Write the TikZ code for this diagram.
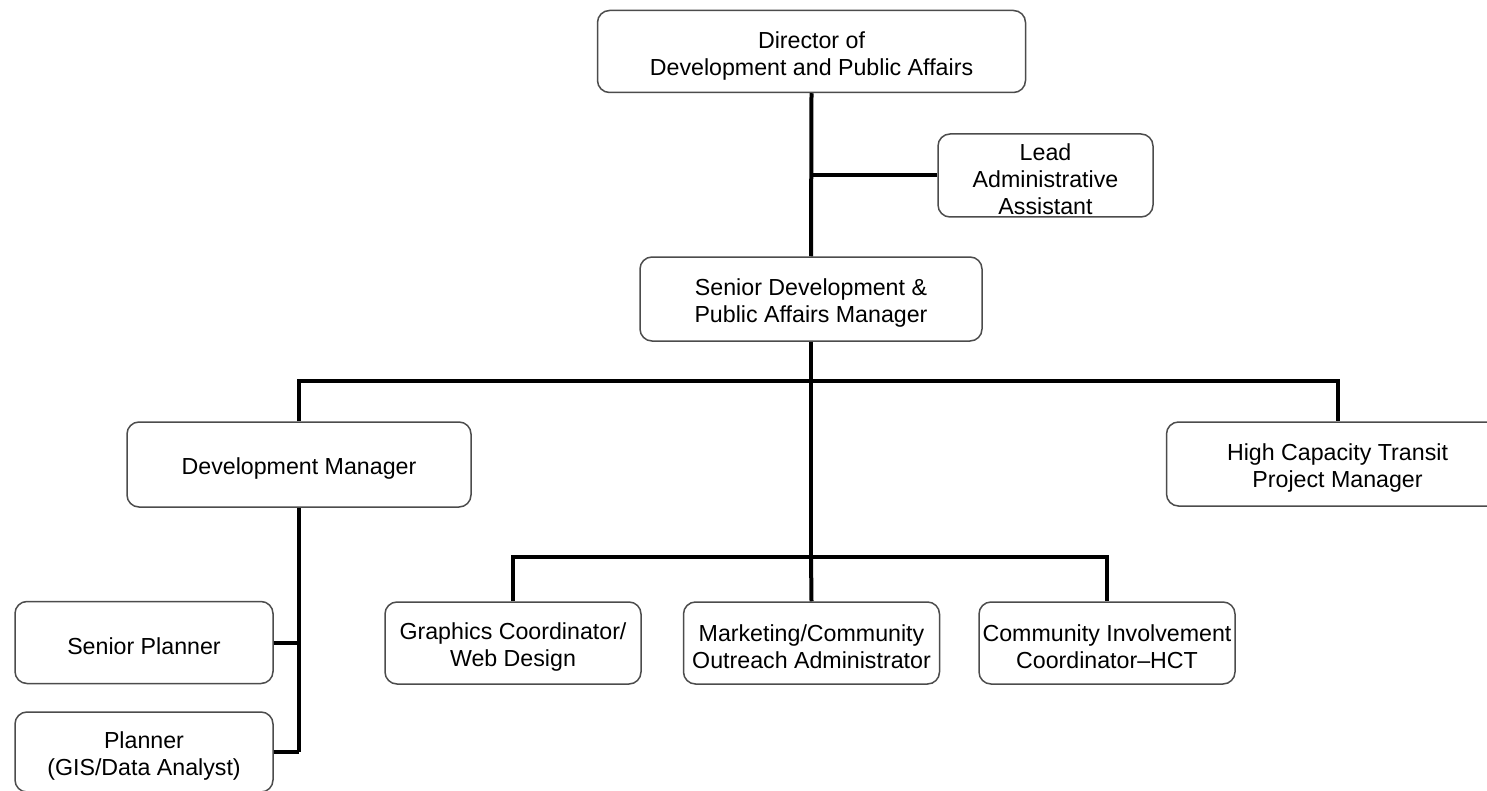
\documentclass[tikz,border=0pt]{standalone}
\usepackage{fontspec}
\setmainfont{Liberation Sans}
\begin{document}
\begin{tikzpicture}[x=0.5pt,y=-0.5pt,
  box/.style={draw=black!70, line width=0.75pt, rounded corners=6pt, fill=white,
    align=center, inner sep=0pt, font=\fontsize{11.6}{13.5}\selectfont, lines=1},
  % a zero-width rule lifts the top of the text block so the lines sit a little low
  lines/.style={execute at begin node={\rule{0pt}{\dimexpr 12.5pt+13.5pt*(#1-1)\relax}}},
  conn/.style={draw=black, line width=2pt}]
  % canvas
  \clip (0,0) rectangle (1487,791);
  \fill[white] (0,0) rectangle (1487,791);

  % positions
  \node[box, lines=2, minimum width=214pt, minimum height=41pt] (dir) at (811.5,51.5) {Director of\\Development and Public Affairs};
  \node[box, lines=3, minimum width=107.5pt, minimum height=41.5pt] (lead) at (1045.5,175.5) {Lead\\Administrative\\Assistant};
  \node[box, lines=2, minimum width=171pt, minimum height=42pt] (sdm) at (811,299) {Senior Development \&\\Public Affairs Manager};
  \node[box, minimum width=172pt, minimum height=42.5pt] (dm) at (299,464.5) {Development Manager};
  \node[box, lines=2, minimum width=171pt, minimum height=42pt] (hct) at (1337.5,464) {High Capacity Transit\\Project Manager};
  \node[box, minimum width=129pt, minimum height=41pt] (sp) at (144,642.5) {Senior Planner};
  \node[box, lines=2, minimum width=129pt, minimum height=40pt] (pl) at (144,752) {Planner\\(GIS/Data Analyst)};
  \node[box, lines=2, minimum width=128pt, minimum height=41pt] (gfx) at (513,643) {Graphics Coordinator/\\Web Design};
  \node[box, lines=2, minimum width=128pt, minimum height=41pt] (mkt) at (811.5,643) {Marketing/Community\\Outreach Administrator};
  \node[box, lines=2, minimum width=128pt, minimum height=41pt] (com) at (1107,643) {Community Involvement\\Coordinator--HCT};

  % junction points of the bars
  \coordinate (bar1) at (811,381);
  \coordinate (bar2) at (811,557);

  % connectors
  \draw[conn] (dir.south) -- (sdm.north);
  \draw[conn] (lead.west) -- (lead.west -| dir.south);
  \draw[conn] (sdm.south) -- (bar2);
  \draw[conn] (dm.north) |- (bar1) -| (hct.north);
  \draw[conn] (gfx.north) |- (bar2) -| (com.north);
  \draw[conn] (bar2) -- (mkt.north);
  \draw[conn] (dm.south) -- (dm.south |- pl.east);
  \draw[conn] (sp.east) -- (sp.east -| dm.south);
  \draw[conn] (pl.east) -- (pl.east -| dm.south);
\end{tikzpicture}
\end{document}
